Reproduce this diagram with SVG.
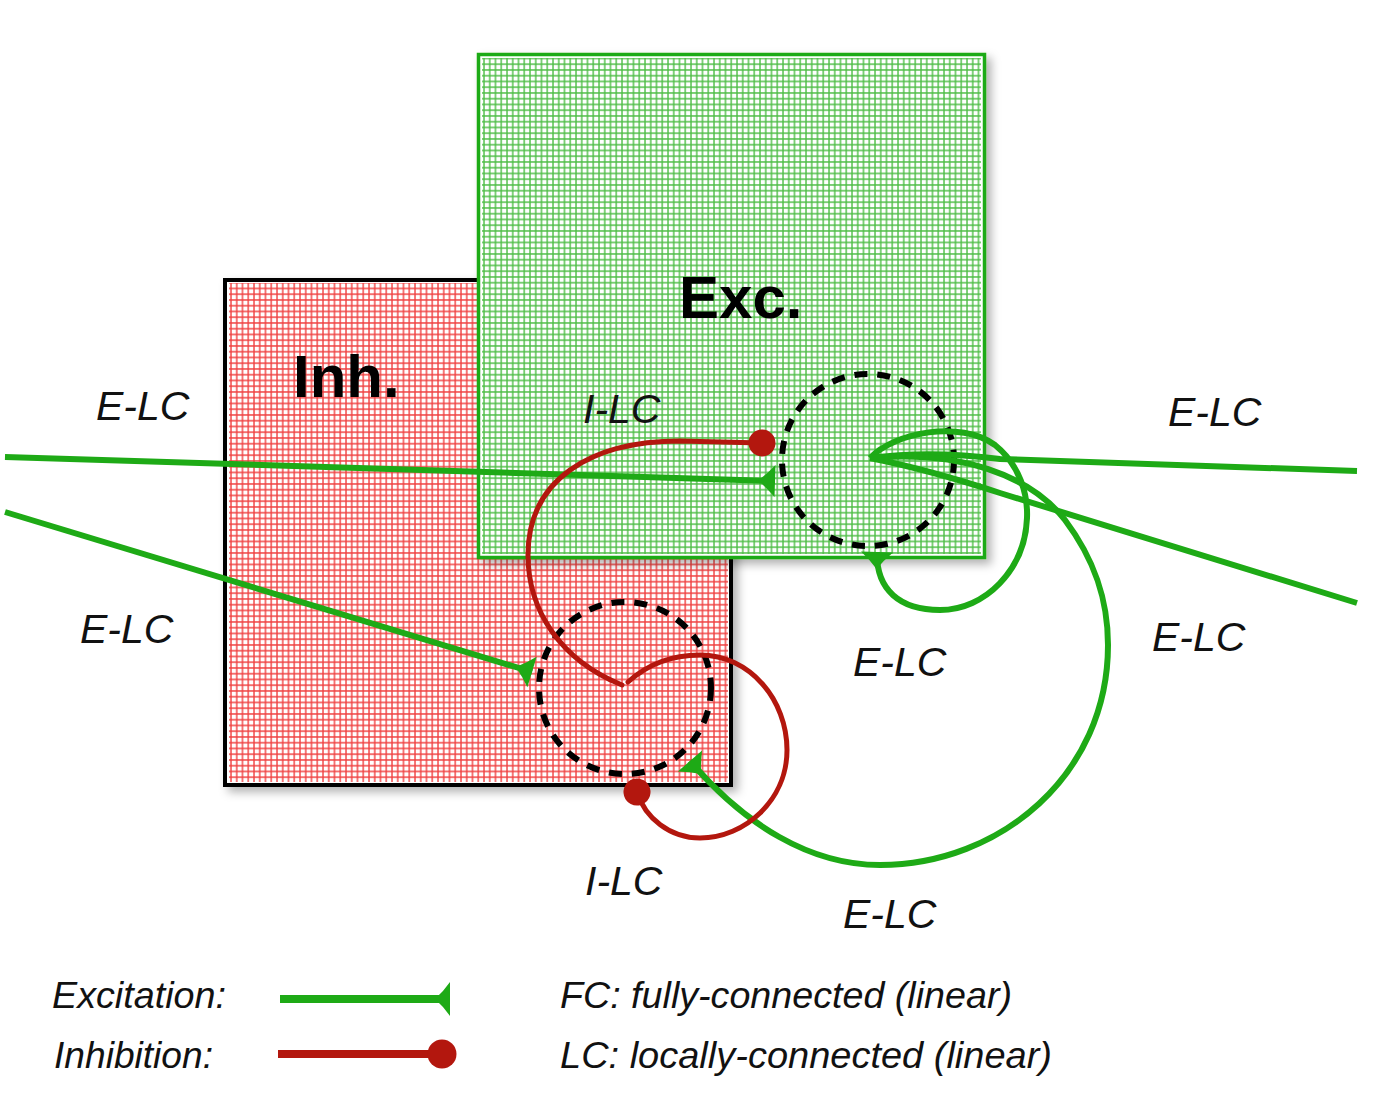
<svg xmlns="http://www.w3.org/2000/svg" width="1380" height="1100" viewBox="0 0 1380 1100">
<style>
.lbl{font-family:"Liberation Sans",Arial,Helvetica,sans-serif;font-style:italic;font-size:41px;fill:#111}
.leg{font-family:"Liberation Sans",Arial,Helvetica,sans-serif;font-style:italic;font-size:37px;fill:#111}
.big{font-family:"Liberation Sans",Arial,Helvetica,sans-serif;font-weight:bold;font-size:60px;fill:#000}
.exc{fill:none;stroke:#1eaa16;stroke-width:6;stroke-linecap:butt}
.inh{fill:none;stroke:#b3170e;stroke-width:5;stroke-linecap:round}
.dash{fill:none;stroke:#000;stroke-width:6;stroke-dasharray:13 10}
</style>
<defs>
<pattern id="gridR" width="5.75" height="5.75" patternUnits="userSpaceOnUse">
<path d="M0,1 H5.75 M1,0 V5.75" stroke="#f04040" stroke-width="1.4" fill="none"/>
</pattern>
<pattern id="gridG" width="5.75" height="5.75" patternUnits="userSpaceOnUse">
<path d="M0,1 H5.75 M1,0 V5.75" stroke="#4dbd45" stroke-width="1.4" fill="none"/>
</pattern>
<filter id="sh" x="-5%" y="-5%" width="115%" height="115%">
<feDropShadow dx="5" dy="5" stdDeviation="5" flood-color="#000" flood-opacity="0.3"/>
</filter>
<marker id="ah" markerUnits="userSpaceOnUse" markerWidth="40" markerHeight="40" refX="20" refY="20" orient="auto" overflow="visible">
<path d="M20,4 Q12,13 3,20 Q12,27 20,36 Z" fill="#1eaa16"/>
</marker>
<marker id="ahL" markerUnits="userSpaceOnUse" markerWidth="40" markerHeight="40" refX="20" refY="20" orient="auto" overflow="visible">
<path d="M20,3 Q13,13 5,20 Q13,27 20,37 Z" fill="#1eaa16"/>
</marker>
<marker id="dot" markerUnits="userSpaceOnUse" markerWidth="40" markerHeight="40" refX="20" refY="20" orient="auto" overflow="visible">
<circle cx="20" cy="20" r="13.5" fill="#b3170e"/>
</marker>
<marker id="dotL" markerUnits="userSpaceOnUse" markerWidth="40" markerHeight="40" refX="20" refY="20" orient="auto" overflow="visible">
<circle cx="20" cy="20" r="14.5" fill="#b3170e"/>
</marker>
</defs>
<rect width="1380" height="1100" fill="#fff"/>

<g id="inh-node">
<rect x="225" y="280" width="506" height="505" fill="#fff" stroke="#000" stroke-width="4" filter="url(#sh)"/>
<rect x="229" y="283" width="499" height="499" fill="url(#gridR)"/>
<text class="big" x="293" y="397">Inh.</text>
</g>

<g id="exc-node">
<rect x="478.5" y="54.5" width="506" height="503" fill="#fff" stroke="#1eaa16" stroke-width="3.5" filter="url(#sh)"/>
<rect x="482" y="58" width="499" height="496" fill="url(#gridG)"/>
<text class="big" x="679" y="318">Exc.</text>
</g>

<g id="exc-lc-region">
<circle class="dash" cx="868" cy="460" r="86"/>
</g>
<g id="inh-lc-region">
<circle class="dash" cx="625" cy="688" r="86"/>
</g>

<g id="connectors">
<path class="exc" d="M5,457 L775,481" marker-end="url(#ah)"/>
<path class="exc" d="M5,512 L532,672" marker-end="url(#ah)"/>
<path class="exc" d="M870,458 Q930,450 1000,459 L1357,471"/>
<path class="exc" d="M870,458 Q930,470 1000,493 L1357,603"/>
<path class="exc" d="M870,458 C895,432 960,420 995,445 C1020,465 1028,495 1027,518 C1025,570 985,610 940,610 C900,610 876,590 877,552" marker-end="url(#ah)"/>
<path class="exc" d="M870,458 C960,450 1030,475 1065,520 C1095,560 1108,600 1108,645 C1108,775 1000,865 880,865 C810,865 745,825 690,761" marker-end="url(#ah)"/>
<path class="inh" d="M622,685 C560,660 528,610 528,555 C528,480 590,441 680,441 L762,443" marker-end="url(#dot)"/>
<path class="inh" d="M628,682 C650,662 675,655 700,655 C750,655 787,700 787,750 C787,800 745,838 700,838 C670,838 645,818 637,792" marker-end="url(#dot)"/>
</g>

<g id="labels">
<text class="lbl" x="96" y="420">E-LC</text>
<text class="lbl" x="80" y="643">E-LC</text>
<text class="lbl" x="583" y="423">I-LC</text>
<text class="lbl" x="1168" y="426">E-LC</text>
<text class="lbl" x="1152" y="651">E-LC</text>
<text class="lbl" x="853" y="676">E-LC</text>
<text class="lbl" x="585" y="895">I-LC</text>
<text class="lbl" x="843" y="928">E-LC</text>
</g>

<g id="legend">
<text class="leg" x="52" y="1008" textLength="174" lengthAdjust="spacingAndGlyphs">Excitation:</text>
<text class="leg" x="54" y="1068" textLength="159" lengthAdjust="spacingAndGlyphs">Inhibition:</text>
<path d="M280,999 L450,999" stroke="#1eaa16" stroke-width="8" fill="none" marker-end="url(#ahL)"/>
<path d="M278,1054 L442,1054" stroke="#b3170e" stroke-width="8" fill="none" marker-end="url(#dotL)"/>
<text class="leg" x="560" y="1008" textLength="452" lengthAdjust="spacingAndGlyphs">FC: fully-connected (linear)</text>
<text class="leg" x="560" y="1068" textLength="492" lengthAdjust="spacingAndGlyphs">LC: locally-connected (linear)</text>
</g>
</svg>
